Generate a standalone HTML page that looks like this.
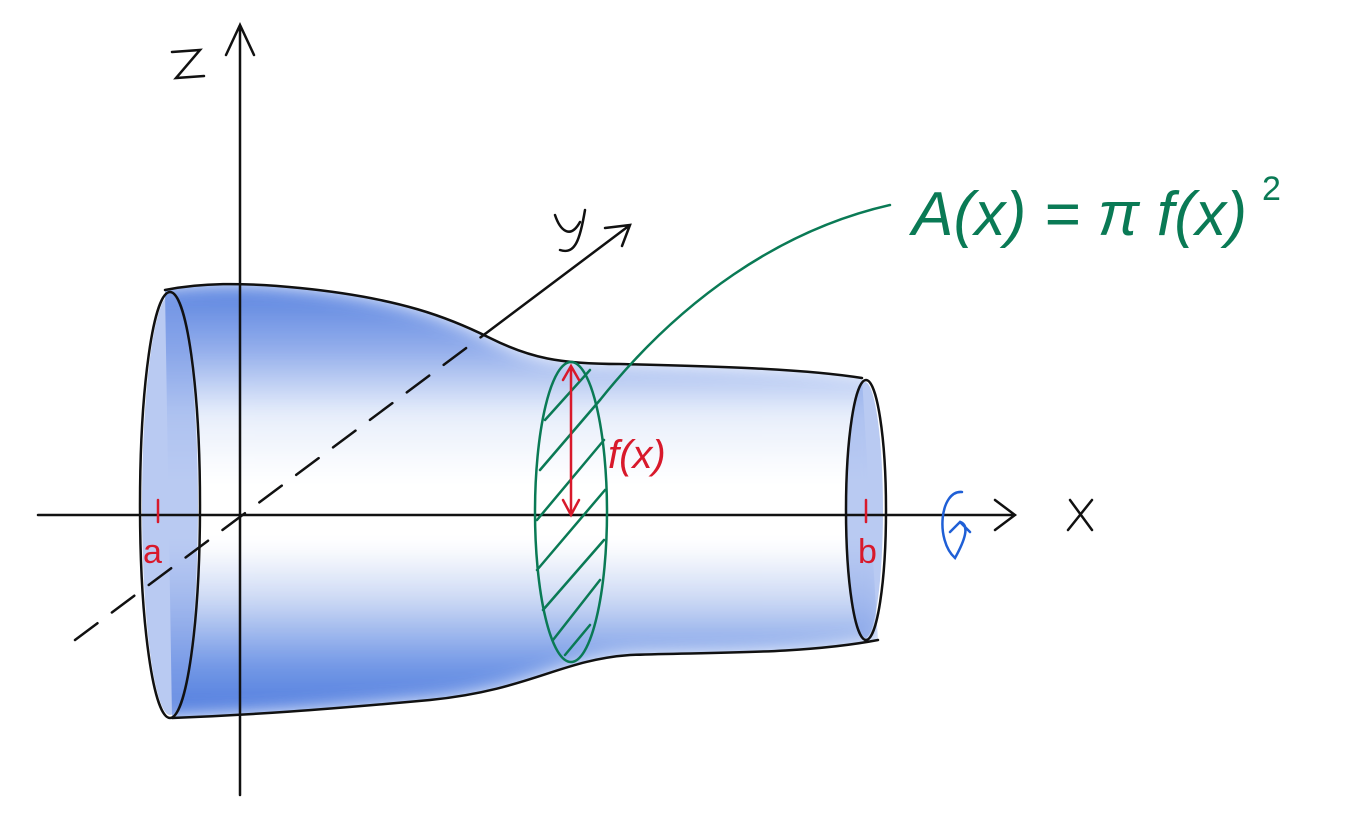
<!DOCTYPE html>
<html><head><meta charset="utf-8"><style>
html,body{margin:0;padding:0;background:#fff;}
svg{display:block;}
</style></head><body>
<svg width="1345" height="813" viewBox="0 0 1345 813" xmlns="http://www.w3.org/2000/svg">
<defs>
<filter id="bl" x="-20%" y="-20%" width="140%" height="140%"><feGaussianBlur stdDeviation="9"/></filter>
<linearGradient id="g" x1="0" y1="0" x2="0" y2="1">
<stop offset="0" stop-color="#3a6cda"/>
<stop offset="0.15" stop-color="#7f9fe8"/>
<stop offset="0.3" stop-color="#e4ecfb"/>
<stop offset="0.45" stop-color="#ffffff"/>
<stop offset="0.6" stop-color="#ffffff"/>
<stop offset="0.72" stop-color="#c8d6f4"/>
<stop offset="0.88" stop-color="#5a86e2"/>
<stop offset="1" stop-color="#2f63d8"/>
</linearGradient>
<clipPath id="cp"><path d="M165,290 C200,283 240,282 300,288 C400,298 450,318 490,338 C530,358 560,364 620,364 C700,366 800,368 862,378 L878,640 C800,655 700,652 630,655 C560,660 530,690 430,700 C320,710 250,715 172,718 Z"/></clipPath>
</defs>
<g clip-path="url(#cp)">
<rect x="100" y="250" width="820" height="500" fill="#fff"/>
<path d="M140,290 C200,283 240,282 300,288 C400,298 450,318 490,338 C530,358 560,364 620,364 C700,366 800,368 880,378 L880,640 C800,655 700,652 630,655 C560,660 530,690 430,700 C320,710 250,715 140,718 Z" fill="url(#g)" filter="url(#bl)" opacity="0.85"/>
</g>
<ellipse cx="170" cy="505" rx="28" ry="210" fill="#7f9fe8" opacity="0.55"/>
<ellipse cx="865" cy="510" rx="18" ry="128" fill="#7f9fe8" opacity="0.55"/>
<g fill="none" stroke="#111" stroke-width="2.5" stroke-linecap="round">
<path d="M165,290 C200,283 240,282 300,288 C400,298 450,318 490,338 C530,358 560,364 620,364 C700,366 800,368 862,378"/>
<path d="M172,718 C250,715 320,710 430,700 C530,690 560,660 630,655 C700,652 800,655 878,640"/>
<ellipse cx="170" cy="505" rx="30" ry="213"/>
<ellipse cx="866" cy="510" rx="20" ry="130"/>
<path d="M240,795 L240,25 M226,55 L240,25 L254,55"/>
<path d="M38,515 L1015,515 M995,500 L1015,515 L995,530"/>
<path d="M75,640 L485,334" stroke-dasharray="28,18"/>
<path d="M485,334 L630,225 M605,228 L630,225 L622,246"/>
<path d="M172,52 L200,50 L176,78 L204,76"/>
<path d="M1070,500 L1092,530 M1092,500 L1068,530"/>
<path d="M555,215 C560,230 570,240 580,222 M585,210 C580,240 575,255 560,250"/>
</g>
<g fill="none" stroke="#0a7a55" stroke-width="2.5" stroke-linecap="round">
<ellipse cx="571" cy="512" rx="36" ry="150"/>
<path d="M600,400 C680,300 780,230 890,205"/>
<path d="M545,420 L590,370 M540,470 L600,400 M537,520 L604,440 M537,570 L605,490 M543,610 L604,540 M553,640 L600,580 M565,655 L590,625"/>
</g>
<text x="912" y="235" font-family="Liberation Sans, sans-serif" font-style="italic" font-size="62" fill="#0a7a55" textLength="335">A(x) = π f(x)</text>
<text x="1262" y="200" font-family="Liberation Sans, sans-serif" font-size="34" fill="#0a7a55">2</text>
<g stroke="#d8192b" stroke-width="2.5" fill="none" stroke-linecap="round">
<path d="M571,368 L571,515 M563,380 L571,366 L579,380 M563,500 L571,515 L579,500"/>
<path d="M158,500 L158,522 M866,500 L866,522"/>
</g>
<text x="608" y="468" font-family="Liberation Sans, sans-serif" font-style="italic" font-size="40" fill="#d8192b">f(x)</text>
<text x="143" y="563" font-family="Liberation Sans, sans-serif" font-size="34" fill="#d8192b">a</text>
<text x="858" y="563" font-family="Liberation Sans, sans-serif" font-size="34" fill="#d8192b">b</text>
<path d="M962,492 C940,490 935,540 955,558 C965,540 970,525 960,522 M950,532 L960,522 L970,532" fill="none" stroke="#1f5fd6" stroke-width="2.5" stroke-linecap="round"/>
</svg>
</body></html>
